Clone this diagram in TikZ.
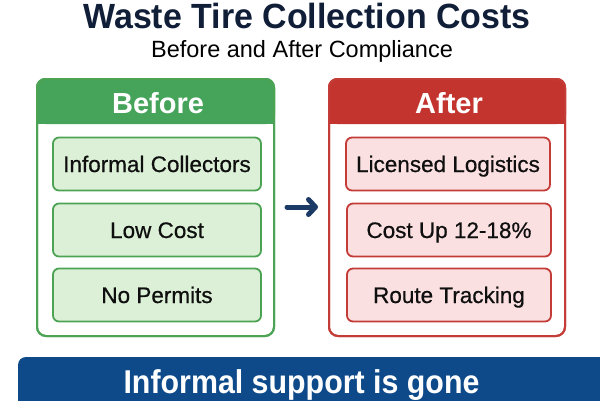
\documentclass[tikz,border=0pt]{standalone}
\usepackage{fontspec}
\setmainfont{Liberation Sans}
\newfontfamily\titlefam[FakeStretch=0.97]{Liberation Sans}
\newfontfamily\bannerfam[FakeStretch=0.92]{Liberation Sans}
\newfontfamily\itemfam[FakeBold=0.6]{Liberation Sans}
\usetikzlibrary{arrows.meta}
\definecolor{hdrgreen}{RGB}{70,163,90}
\definecolor{boxgreen}{RGB}{219,240,214}
\definecolor{edgegreen}{RGB}{76,163,84}
\definecolor{hdrred}{RGB}{196,52,46}
\definecolor{boxred}{RGB}{250,224,224}
\definecolor{edgered}{RGB}{196,60,55}
\definecolor{titlenavy}{RGB}{16,30,56}
\definecolor{bannerblue}{RGB}{14,74,138}
\definecolor{arrownavy}{RGB}{28,58,102}
\definecolor{textdark}{RGB}{15,15,15}
\tikzset{
  panelbox/.style={draw=#1, line width=2pt, rounded corners=9pt, minimum width=237pt, minimum height=257pt, inner sep=0pt},
  hdrtext/.style={text=white, font=\fontsize{29}{31}\selectfont\bfseries, inner sep=0pt, text height=21pt, text depth=0pt},
  itembox/.style 2 args={draw=#1, fill=#2, line width=1.8pt, rounded corners=6pt, minimum height=53pt, inner sep=0pt,
    text=textdark, font=\itemfam\fontsize{22.5}{24}\selectfont, text height=16pt, text depth=0pt},
}
\begin{document}
\begin{tikzpicture}[x=1pt,y=-1pt]
\useasboundingbox (0,0) rectangle (600,400);
% title
\node[anchor=base, inner sep=0pt, text=titlenavy, font=\titlefam\fontsize{35}{38}\selectfont\bfseries] (title) at (307,28) {Waste Tire Collection Costs};
\node[anchor=base, inner sep=0pt, text=black, font=\fontsize{23.5}{26}\selectfont] (subtitle) at (302,57) {Before and After Compliance};
% Before panel
\node[panelbox=edgegreen] (before) at (155.5,207.5) {};
\fill[hdrgreen, rounded corners=9pt] (before.north west) rectangle ([yshift=-46pt]before.north east);
\fill[hdrgreen] ([yshift=-30pt]before.north west) rectangle ([yshift=-46pt]before.north east);
\node[panelbox=edgegreen] at (before.center) {};
\node[hdrtext] (beforehdr) at (158,103) {Before};
\node[itembox={edgegreen}{boxgreen}, minimum width=208pt] (b1) at (157,164) {Informal Collectors};
\node[itembox={edgegreen}{boxgreen}, minimum width=208pt] (b2) at (157,230) {Low Cost};
\node[itembox={edgegreen}{boxgreen}, minimum width=208pt] (b3) at (157,295) {No Permits};
% After panel
\node[panelbox=edgered, minimum width=236pt] (after) at (447,207.5) {};
\fill[hdrred, rounded corners=9pt] (after.north west) rectangle ([yshift=-46pt]after.north east);
\fill[hdrred] ([yshift=-30pt]after.north west) rectangle ([yshift=-46pt]after.north east);
\node[panelbox=edgered, minimum width=236pt] at (after.center) {};
\node[hdrtext] (afterhdr) at (449,103) {After};
\node[itembox={edgered}{boxred}, minimum width=204pt] (a1) at (448,164) {Licensed Logistics};
\node[itembox={edgered}{boxred}, minimum width=204pt] (a2) at (449,230) {Cost Up 12-18\%};
\node[itembox={edgered}{boxred}, minimum width=204pt] (a3) at (449,295) {Route Tracking};
% arrow
\draw[arrownavy, line width=5pt, line cap=round, shorten <=12pt, shorten >=10pt,
  -{Straight Barb[length=7pt,width=15pt,line cap=round,line join=round]}] (before.east |- 0,207) -- (after.west |- 0,207);
% banner
\fill[bannerblue, rounded corners=8pt] (18,357) rectangle (615,430);
\node[anchor=base, inner sep=0pt, text=white, font=\bannerfam\fontsize{33}{36}\selectfont\bfseries] (msg) at (301.5,393) {Informal support is gone};
\end{tikzpicture}
\end{document}
